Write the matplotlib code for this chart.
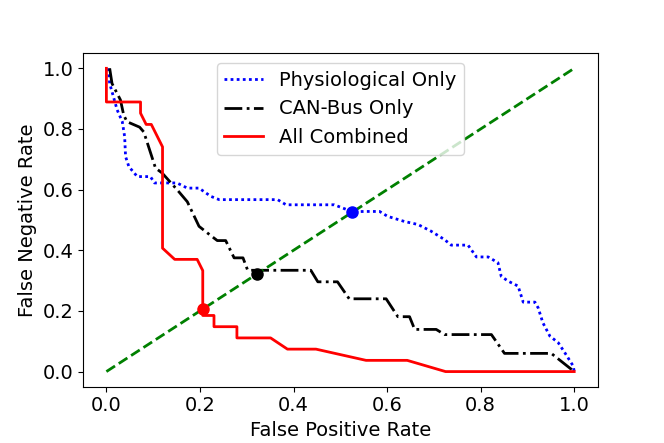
import matplotlib
matplotlib.use("Agg")
import matplotlib.pyplot as plt

# Physiological Only
phys_fpr = [0.004, 0.007, 0.014, 0.023, 0.034, 0.039, 0.041, 0.048, 0.066, 0.094, 0.103,
            0.151, 0.173, 0.198, 0.223, 0.241, 0.366, 0.384, 0.487, 0.526, 0.551, 0.584,
            0.601, 0.637, 0.666, 0.694, 0.723, 0.737, 0.773, 0.791, 0.816, 0.837, 0.844,
            0.859, 0.880, 0.891, 0.916, 0.923, 0.933, 0.948, 0.966, 0.980, 0.998, 1.0]
phys_fnr = [1.0, 0.95, 0.912, 0.863, 0.824, 0.775, 0.709, 0.676, 0.643, 0.643, 0.622,
            0.622, 0.605, 0.605, 0.578, 0.567, 0.567, 0.550, 0.550, 0.527, 0.528, 0.528,
            0.512, 0.495, 0.485, 0.463, 0.435, 0.417, 0.417, 0.378, 0.378, 0.359, 0.314,
            0.298, 0.282, 0.229, 0.229, 0.210, 0.161, 0.117, 0.095, 0.062, 0.018, 0.0]

# CAN-Bus Only
can_fpr = [0.007, 0.012, 0.030, 0.037, 0.044, 0.071, 0.080, 0.105, 0.119, 0.151, 0.173,
           0.198, 0.216, 0.237, 0.255, 0.273, 0.292, 0.302, 0.437, 0.452, 0.494, 0.519,
           0.598, 0.623, 0.648, 0.659, 0.705, 0.723, 0.823, 0.851, 0.951, 1.0]
can_fnr = [1.0, 0.95, 0.896, 0.846, 0.824, 0.806, 0.79, 0.671, 0.655, 0.60, 0.560,
           0.479, 0.457, 0.432, 0.432, 0.375, 0.375, 0.334, 0.334, 0.296, 0.296, 0.240,
           0.240, 0.181, 0.181, 0.139, 0.139, 0.122, 0.122, 0.060, 0.060, 0.0]

# All Combined
all_fpr = [0.0, 0.0, 0.073, 0.073, 0.085, 0.096, 0.120, 0.120, 0.146, 0.194, 0.206,
           0.206, 0.230, 0.230, 0.279, 0.279, 0.351, 0.387, 0.448, 0.555, 0.643, 0.725, 1.0]
all_fnr = [1.0, 0.889, 0.889, 0.852, 0.815, 0.815, 0.741, 0.407, 0.370, 0.370, 0.333,
           0.185, 0.185, 0.148, 0.148, 0.111, 0.111, 0.074, 0.074, 0.037, 0.037, 0.0, 0.0]

# equal error rate points
eer_phys = (0.526, 0.526)
eer_can = (0.321, 0.321)
eer_all = (0.206, 0.206)

plt.rcParams["font.size"] = 14
fig, ax = plt.subplots(figsize=(6.64, 4.43), dpi=100)
fig.subplots_adjust(left=0.125, right=0.9, top=0.88, bottom=0.127)

ax.plot(phys_fpr, phys_fnr, "b:", lw=2, dashes=(1, 1.2), label="Physiological Only")
ax.plot(can_fpr, can_fnr, "k-.", lw=2, label="CAN-Bus Only")
ax.plot(all_fpr, all_fnr, "r-", lw=2, label="All Combined")
ax.plot([0, 1], [0, 1], "g--", lw=2)
ax.plot(*eer_phys, "bo", ms=8)
ax.plot(*eer_can, "ko", ms=8)
ax.plot(*eer_all, "ro", ms=8)

ax.set_xlabel("False Positive Rate")
ax.set_ylabel("False Negative Rate")
ax.legend(loc="upper center")

plt.savefig("out.png")
